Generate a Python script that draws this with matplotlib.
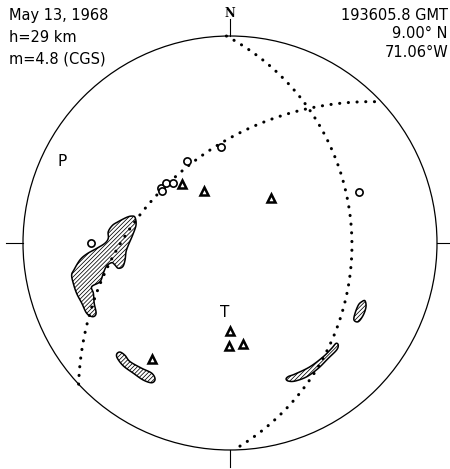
import numpy as np
import matplotlib.pyplot as plt
from matplotlib.patches import Polygon, Circle

plt.rcParams['hatch.linewidth'] = 0.55

# nodal planes: strike, dip (right-hand rule), lower hemisphere Wulff net
strikes = [359, 227]
dips = [29, 45]

# first motions: azimuth and take-off angle (deg)
ring_az = [354.6, 332.6, 308.8, 307.6, 313.5, 316.5, 269.8, 68.6]
ring_to = [49.9, 48.1, 46.3, 44.8, 45.9, 43.8, 67.8, 67.6]
tri_az = [320.7, 333.8, 41.9, 180.0, 180.4, 172.8, 214.0]
tri_to = [40.4, 31.4, 32.8, 45.9, 52.9, 52.4, 68.1]

# stress axes: label, trend, plunge
axis_names = ['P', 'T']
axis_trend = [296, 184]
axis_plunge = [6, 53]

# hatched regions, outlines in net coordinates (x east, y north, radius 1)
blob_w = [(-0.459, 0.124), (-0.454, 0.087), (-0.470, 0.039), (-0.491, -0.010),
          (-0.502, -0.042), (-0.507, -0.082), (-0.518, -0.114), (-0.540, -0.122),
          (-0.556, -0.106), (-0.571, -0.095), (-0.596, -0.111), (-0.612, -0.146),
          (-0.628, -0.187), (-0.668, -0.211), (-0.660, -0.243), (-0.656, -0.291),
          (-0.647, -0.340), (-0.663, -0.356), (-0.692, -0.340), (-0.716, -0.291),
          (-0.741, -0.243), (-0.757, -0.195), (-0.765, -0.155), (-0.754, -0.130),
          (-0.725, -0.082), (-0.692, -0.053), (-0.644, -0.026), (-0.604, -0.001),
          (-0.588, 0.023), (-0.588, 0.055), (-0.568, 0.085), (-0.540, 0.103),
          (-0.499, 0.124), (-0.475, 0.130)]
lens_sw = [(-0.547, -0.536), (-0.531, -0.527), (-0.507, -0.543), (-0.483, -0.573),
           (-0.427, -0.605), (-0.378, -0.629), (-0.362, -0.658), (-0.378, -0.675),
           (-0.419, -0.662), (-0.467, -0.629), (-0.515, -0.594), (-0.544, -0.557)]
oval_e = [(0.636, -0.284), (0.652, -0.279), (0.657, -0.308), (0.644, -0.348),
          (0.620, -0.380), (0.599, -0.372), (0.604, -0.340), (0.620, -0.300)]
lens_se = [(0.271, -0.657), (0.282, -0.645), (0.314, -0.633), (0.386, -0.598),
           (0.451, -0.549), (0.491, -0.509), (0.512, -0.485), (0.523, -0.493),
           (0.515, -0.517), (0.475, -0.557), (0.427, -0.605), (0.371, -0.646),
           (0.314, -0.667), (0.282, -0.667)]

left_lines = ['May 13, 1968', 'h=29 km', 'm=4.8 (CGS)']
right_lines = ['193605.8 GMT', '9.00° N', '71.06°W']


def proj(trend, plunge):
    r = np.tan(np.radians(90 - np.asarray(plunge)) / 2)
    t = np.radians(trend)
    return r * np.sin(t), r * np.cos(t)


def great_circle(strike, dip, n=500):
    a = np.linspace(0, np.pi, n)
    s, d = np.radians(strike), np.radians(dip)
    sv = np.array([np.cos(s), np.sin(s), 0.0])
    dv = np.array([np.cos(d) * np.cos(s + np.pi / 2),
                   np.cos(d) * np.sin(s + np.pi / 2), np.sin(d)])
    v = np.outer(np.cos(a), sv) + np.outer(np.sin(a), dv)
    trend = np.degrees(np.arctan2(v[:, 1], v[:, 0]))
    plunge = np.degrees(np.arcsin(np.clip(v[:, 2], -1, 1)))
    return proj(trend, plunge)


def smooth(pts, k=10):
    p = np.asarray(pts)
    n = len(p)
    out = []
    for i in range(n):
        p0, p1, p2, p3 = p[i - 1], p[i], p[(i + 1) % n], p[(i + 2) % n]
        for t in np.linspace(0, 1, k, endpoint=False):
            out.append(0.5 * (2 * p1 + (p2 - p0) * t
                              + (2 * p0 - 5 * p1 + 4 * p2 - p3) * t ** 2
                              + (3 * p1 - p0 - 3 * p2 + p3) * t ** 3))
    return np.array(out)


W, H = 450, 469
cx, cy, R = 230, 243, 207
fig = plt.figure(figsize=(W / 100, H / 100), dpi=100)
ax = fig.add_axes([0, 0, 1, 1])
ax.set_xlim(-cx / R, (W - cx) / R)
ax.set_ylim((cy - H) / R, cy / R)
ax.set_aspect('equal')
ax.axis('off')

ax.add_patch(Circle((0, 0), 1, fill=False, lw=0.9, color='k'))
for ang in [0, 90, 180, 270]:
    t = np.radians(ang)
    ax.plot([np.sin(t), 1.08 * np.sin(t)], [np.cos(t), 1.08 * np.cos(t)],
            color='k', lw=0.8)

for outline in [blob_w, lens_sw, oval_e, lens_se]:
    ax.add_patch(Polygon(smooth(outline), closed=True, facecolor='white',
                         edgecolor='k', lw=1.1, hatch='////////'))

for s, d in zip(strikes, dips):
    x, y = great_circle(s, d)
    ax.plot(x, y, color='k', lw=2.2, linestyle=(0, (0.05, 2.8)),
            dash_capstyle='round')

x, y = proj(ring_az, 90 - np.array(ring_to))
ax.plot(x, y, 'o', ms=5.2, mfc='white', mec='k', mew=1.2, ls='none')
x, y = proj(tri_az, 90 - np.array(tri_to))
ax.plot(x, y, '^', ms=5.8, mfc='white', mec='k', mew=1.8, ls='none')

x, y = proj(axis_trend, axis_plunge)
for name, xi, yi in zip(axis_names, x, y):
    ax.text(xi, yi, name, ha='center', va='center', fontsize=11)

ax.text(0, 1.11, 'N', ha='center', va='center', fontsize=8.5,
        family='DejaVu Serif', weight='bold')

for i, s in enumerate(left_lines):
    fig.text(9 / W, 1 - (20 + 21.7 * i) / H, s, ha='left', va='baseline',
             fontsize=10.5)
for i, s in enumerate(right_lines):
    fig.text(448 / W, 1 - (20 + 18.3 * i) / H, s, ha='right', va='baseline',
             fontsize=10.5)

fig.savefig('out.png', dpi=100, facecolor='white')
